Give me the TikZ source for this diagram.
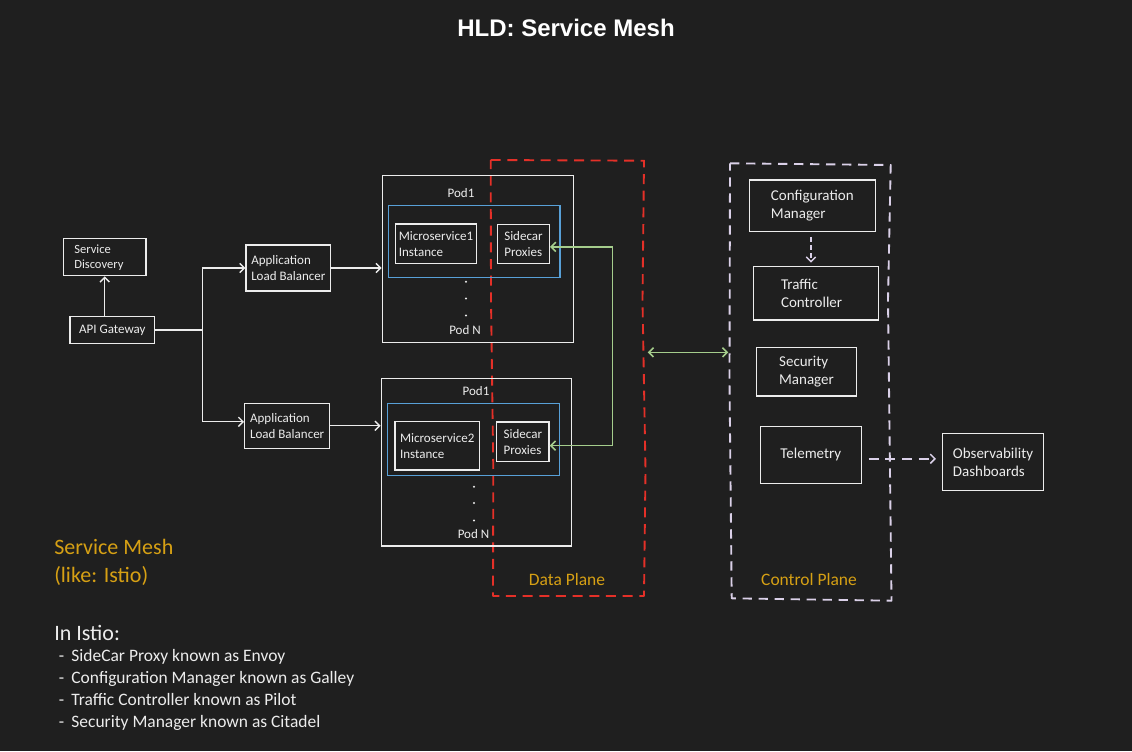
\documentclass[tikz,border=0pt]{standalone}
\usepackage{fontspec}
\setmainfont{Carlito}
\newfontfamily\titlefont{Liberation Sans}
\usetikzlibrary{arrows.meta}
\definecolor{bg}{RGB}{31,31,31}
\definecolor{wc}{RGB}{236,236,236}
\definecolor{orng}{RGB}{214,160,20}
\definecolor{redd}{RGB}{228,48,40}
\definecolor{bluec}{RGB}{88,160,215}
\definecolor{grn}{RGB}{165,205,140}
\definecolor{lav}{RGB}{218,208,232}
\begin{document}
\begin{tikzpicture}[x=0.75pt,y=-0.75pt,
  >={Straight Barb[length=3.5pt,width=7pt]},
  box/.style={draw=wc, line width=1.1pt, inner sep=0pt, text=wc, align=left},
  bluebox/.style={draw=bluec, line width=1.1pt, inner sep=0pt},
  sm/.style={font=\fontsize{9.75pt}{12pt}\selectfont},
  xs/.style={font=\fontsize{9.4pt}{11.25pt}\selectfont},
  md/.style={font=\fontsize{11.25pt}{13.5pt}\selectfont},
  lbl/.style={text=wc, inner sep=0pt, font=\fontsize{9.75pt}{12pt}\selectfont},
  warr/.style={draw=wc, line width=1pt, ->},
  garr/.style={draw=grn, line width=1.2pt, <->},
  plane/.style={text=orng, inner sep=0pt, font=\fontsize{13.1pt}{15pt}\selectfont},
  dot/.style={fill=wc}
]
\fill[bg] (0,0) rectangle (1132,751);
\useasboundingbox (0,0) rectangle (1132,751);

% title
\node[text=white, font=\titlefont\bfseries\fontsize{18pt}{21pt}\selectfont] (title) at (566,28) {HLD: Service Mesh};

% planes (hand-drawn dashed outlines)
\draw[redd, line width=1.4pt, dash pattern=on 7.5pt off 5pt, line join=round]
  (490.7,160) -- (644,160.7) -- (642.5,300) -- (645.5,470) -- (644,596) -- (493,596) -- (493.3,470) -- (491,300) -- cycle;
\draw[lav, line width=1.4pt, dash pattern=on 7pt off 5pt, line join=round]
  (730,163.3) -- (890.7,165) -- (888,300) -- (891.5,600.7) -- (731.7,598.3) -- (729.5,380) -- cycle;
\node[plane] (dplabel) at (567,579) {Data Plane};
\node[plane] (cplabel) at (809,579) {Control Plane};
\coordinate (dpR) at (647.7,352.3);
\coordinate (cpL) at (728.3,352.3);

% left column
\node[box, xs, text width=45.5pt, minimum width=62pt, minimum height=27.75pt] (sd) at (104.65,257.2) {Service\\Discovery};
\node[box, sm, minimum width=63.5pt, minimum height=20pt] (api) at (112.35,330) {API Gateway};
\node[box, sm, minimum width=63.5pt, minimum height=34.5pt] (alb1) at (288.35,268) {Application\\Load Balancer};
\node[box, sm, minimum width=63.75pt, minimum height=33.75pt] (alb2) at (287.2,425.8) {Application\\Load Balancer};
\coordinate (split) at (202.7,330);

% pods
\node[box, minimum width=143.55pt, minimum height=125.25pt] (pod1) at (478,259.2) {};
\node[bluebox, minimum width=128.8pt, minimum height=54pt] (blue1) at (474.15,241.3) {};
\node[box, sm, minimum width=61.05pt, minimum height=29.5pt] (ms1) at (436,243.65) {Microservice1\\Instance};
\node[box, sm, minimum width=38.7pt, minimum height=29.25pt] (sc1) at (523.5,243.8) {Sidecar\\Proxies};
\node[lbl] (p1a) at (461,192.7) {Pod1};
\node[lbl] (p1n) at (465,330) {Pod N};
\fill[dot] (466,281.7) circle (0.9pt) (466,298.5) circle (0.9pt) (466,315.5) circle (0.9pt);

\node[box, minimum width=142.8pt, minimum height=125.5pt] (pod2) at (476.5,462.35) {};
\node[bluebox, minimum width=128.7pt, minimum height=54.3pt] (blue2) at (473.5,439.5) {};
\node[box, sm, minimum width=63.4pt, minimum height=36.2pt] (ms2) at (437.25,445.85) {Microservice2\\Instance};
\node[box, sm, minimum width=39.2pt, minimum height=29.8pt] (sc2) at (522.85,441.85) {Sidecar\\Proxies};
\node[lbl] (p2a) at (476,390.7) {Pod1};
\node[lbl] (p2n) at (473.5,534) {Pod N};
\fill[dot] (474,486.7) circle (0.9pt) (474,503) circle (0.9pt) (474,520.5) circle (0.9pt);

% control plane boxes
\node[box, md, minimum width=94.5pt, minimum height=38.8pt] (cm) at (812.3,205.85) {Configuration\\Manager};
\node[box, md, text width=52.2pt, minimum width=93.75pt, minimum height=40pt] (tc) at (815.8,293.35) {Traffic\\Controller};
\node[box, md, minimum width=75.3pt, minimum height=36.5pt] (secm) at (806.5,371.65) {Security\\Manager};
\node[box, md, minimum width=75.75pt, minimum height=42.75pt] (tel) at (810.8,454.8) {Telemetry};
\node[box, md, minimum width=75.45pt, minimum height=43pt] (obs) at (993,462) {Observability\\Dashboards};

% connectors
\draw[warr] (api.north -| 104.7,0) -- (sd.south -| 104.7,0);
\draw[draw=wc, line width=1pt] (api.east) -- (split);
\draw[warr] (split) |- (alb1.west);
\draw[warr] (split) |- ([yshift=3pt]alb2.west);
\draw[warr] (alb1.east) -- (alb1.east -| pod1.west);
\draw[warr] (alb2.east) -- (alb2.east -| pod2.west);

\coordinate (gbus) at (612.3,350);
\coordinate (sc1p) at ([yshift=-2.25pt]sc1.east);
\coordinate (sc2p) at ([yshift=-2.8pt]sc2.east);
\draw[garr] (sc1p) -- (sc1p -| gbus) -- (sc2p -| gbus) -- (sc2p);
\draw[garr] (dpR) -- (cpL);

\draw[lav, line width=1.1pt, dash pattern=on 3.5pt off 2.5pt, ->, shorten <=3.75pt, shorten >=2.5pt]
  ([xshift=-1pt]cm.south) -- ([xshift=-1pt]cm.south |- tc.north);
\draw[lav, line width=1.1pt, dash pattern=on 7.5pt off 5pt, ->, shorten <=5pt, shorten >=4.5pt]
  ([yshift=-3pt]tel.east) -- ([yshift=-3pt]tel.east -| obs.west);

% notes
\node[anchor=west, inner sep=0pt, text=orng, align=left, font=\fontsize{16.5pt}{21pt}\selectfont] (smesh) at (54,562.5) {Service Mesh\\(like: Istio)};
\node[anchor=west, inner sep=0pt, text=wc, font=\fontsize{16.5pt}{20pt}\selectfont] (inistio) at (54,633.3) {In Istio:};
\node[anchor=west, inner sep=0pt, text=wc, align=left, font=\fontsize{13.1pt}{16.3pt}\selectfont] (list) at (58.5,690) {%
\makebox[9.5pt][l]{-}SideCar Proxy known as Envoy\\
\makebox[9.5pt][l]{-}Configuration Manager known as Galley\\
\makebox[9.5pt][l]{-}Traffic Controller known as Pilot\\
\makebox[9.5pt][l]{-}Security Manager known as Citadel};
\end{tikzpicture}
\end{document}
